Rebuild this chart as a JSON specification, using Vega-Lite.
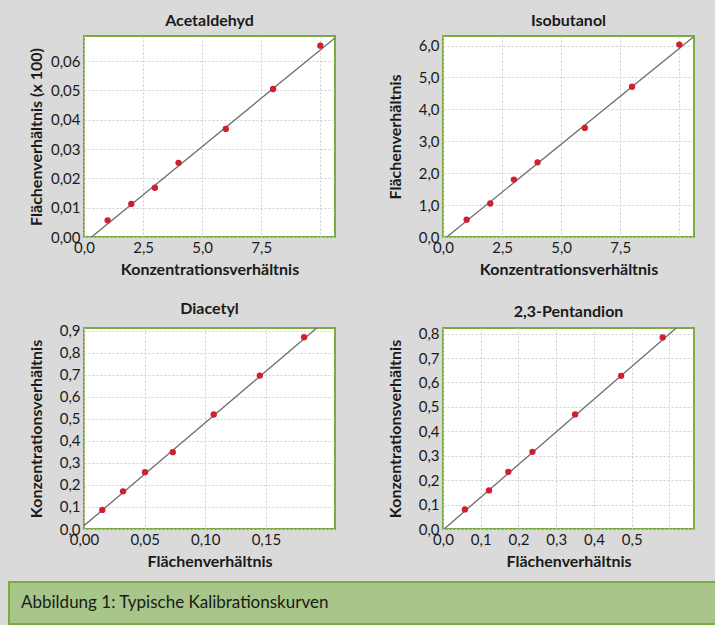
{
  "$schema": "https://vega.github.io/schema/vega-lite/v6.json",
  "background": "#dadada",
  "padding": {"left": 8, "top": 12, "right": 0, "bottom": 0},
  "datasets": {
    "pts1": [{"x": 1, "y": 0.0057}, {"x": 2, "y": 0.0113}, {"x": 3, "y": 0.0168}, {"x": 4, "y": 0.0253}, {"x": 6, "y": 0.0369}, {"x": 8, "y": 0.0505}, {"x": 10, "y": 0.0653}],
    "fit1": [{"x": 0.32, "y": 0}, {"x": 10.63, "y": 0.068}],
    "pts2": [{"x": 1, "y": 0.54}, {"x": 2, "y": 1.05}, {"x": 3, "y": 1.8}, {"x": 4, "y": 2.34}, {"x": 6, "y": 3.42}, {"x": 8, "y": 4.71}, {"x": 10, "y": 6.03}],
    "fit2": [{"x": 0.16, "y": 0}, {"x": 10.58, "y": 6.26}],
    "pts3": [{"x": 0.0151, "y": 0.0865}, {"x": 0.0322, "y": 0.171}, {"x": 0.0503, "y": 0.258}, {"x": 0.0732, "y": 0.349}, {"x": 0.107, "y": 0.52}, {"x": 0.145, "y": 0.697}, {"x": 0.1815, "y": 0.871}],
    "fit3": [{"x": 0, "y": 0.015}, {"x": 0.192, "y": 0.913}],
    "pts4": [{"x": 0.058, "y": 0.08}, {"x": 0.122, "y": 0.158}, {"x": 0.173, "y": 0.234}, {"x": 0.237, "y": 0.316}, {"x": 0.35, "y": 0.469}, {"x": 0.472, "y": 0.627}, {"x": 0.582, "y": 0.784}],
    "fit4": [{"x": 0.003, "y": 0}, {"x": 0.618, "y": 0.823}],
    "cap": [{"caption": "Abbildung 1: Typische Kalibrationskurven"}]
  },
  "config": {
    "font": "Lato",
    "view": {"stroke": "#7aab3f", "strokeWidth": 2, "fill": "white"},
    "axis": {"ticks": false, "domain": false, "gridColor": "#cfcfcf", "gridDash": [2, 2], "gridWidth": 1, "labelFont": "Lato", "labelFontSize": 15, "labelColor": "#1a1a1a", "labelPadding": 4, "labelFlush": false, "labelOverlap": false, "titleFont": "Lato", "titleFontSize": 16, "titleFontWeight": "bold", "titleColor": "#1a1a1a", "titlePadding": 6},
    "axisX": {"labelPadding": 3, "titlePadding": 6},
    "title": {"font": "Lato", "fontSize": 16, "fontWeight": "bold", "color": "#1a1a1a", "offset": 7},
    "concat": {"spacing": 20}
  },
  "spacing": 11,
  "vconcat": [
    {
      "spacing": 0,
      "hconcat": [
        {"width": 18, "height": 10, "view": {"stroke": null, "fill": null}, "data": {"values": []}, "mark": "point", "encoding": {}},
        {
          "columns": 2,
          "spacing": {"column": 50, "row": 21},
          "concat": [
            {
              "title": "Acetaldehyd", "width": 251, "height": 201,
              "encoding": {
                "x": {"field": "x", "type": "quantitative", "scale": {"domain": [0, 10.62], "nice": false, "zero": false}, "axis": {"title": "Konzentrationsverhältnis", "values": [0, 2.5, 5, 7.5, 10], "labelExpr": "datum.value > 9 ? '' : replace(format(datum.value, '.1f'), '.', ',')"}},
                "y": {"field": "y", "type": "quantitative", "scale": {"domain": [0, 0.0686], "nice": false, "zero": false}, "axis": {"title": "Flächenverhältnis (x 100)", "values": [0, 0.01, 0.02, 0.03, 0.04, 0.05, 0.06], "labelExpr": "replace(format(datum.value, '.2f'), '.', ',')"}}
              },
              "layer": [
                {"data": {"name": "fit1"}, "mark": {"type": "line", "color": "#6e6e6e", "strokeWidth": 1.3, "clip": true}},
                {"data": {"name": "pts1"}, "mark": {"type": "circle", "color": "#d0202a", "size": 40, "opacity": 1}}
              ]
            },
            {
              "title": "Isobutanol", "width": 251, "height": 201,
              "encoding": {
                "x": {"field": "x", "type": "quantitative", "scale": {"domain": [0, 10.62], "nice": false, "zero": false}, "axis": {"title": "Konzentrationsverhältnis", "values": [0, 2.5, 5, 7.5, 10], "labelExpr": "datum.value > 9 ? '' : replace(format(datum.value, '.1f'), '.', ',')"}},
                "y": {"field": "y", "type": "quantitative", "scale": {"domain": [0, 6.3], "nice": false, "zero": false}, "axis": {"title": "Flächenverhältnis", "titlePadding": 14.7, "values": [0, 1, 2, 3, 4, 5, 6], "labelExpr": "replace(format(datum.value, '.1f'), '.', ',')"}}
              },
              "layer": [
                {"data": {"name": "fit2"}, "mark": {"type": "line", "color": "#6e6e6e", "strokeWidth": 1.3, "clip": true}},
                {"data": {"name": "pts2"}, "mark": {"type": "circle", "color": "#d0202a", "size": 40, "opacity": 1}}
              ]
            },
            {
              "title": "Diacetyl", "width": 251, "height": 201,
              "encoding": {
                "x": {"field": "x", "type": "quantitative", "scale": {"domain": [0, 0.207], "nice": false, "zero": false}, "axis": {"title": "Flächenverhältnis", "values": [0, 0.05, 0.1, 0.15], "labelExpr": "replace(format(datum.value, '.2f'), '.', ',')"}},
                "y": {"field": "y", "type": "quantitative", "scale": {"domain": [0, 0.913], "nice": false, "zero": false}, "axis": {"title": "Konzentrationsverhältnis", "titlePadding": 14.7, "values": [0, 0.1, 0.2, 0.3, 0.4, 0.5, 0.6, 0.7, 0.8, 0.9], "labelExpr": "replace(format(datum.value, '.1f'), '.', ',')"}}
              },
              "layer": [
                {"data": {"name": "fit3"}, "mark": {"type": "line", "color": "#6e6e6e", "strokeWidth": 1.3, "clip": true}},
                {"data": {"name": "pts3"}, "mark": {"type": "circle", "color": "#d0202a", "size": 40, "opacity": 1}}
              ]
            },
            {
              "title": "2,3-Pentandion", "width": 251, "height": 201,
              "encoding": {
                "x": {"field": "x", "type": "quantitative", "scale": {"domain": [0, 0.665], "nice": false, "zero": false}, "axis": {"title": "Flächenverhältnis", "values": [0, 0.1, 0.2, 0.3, 0.4, 0.5, 0.6], "labelExpr": "datum.value > 0.55 ? '' : replace(format(datum.value, '.1f'), '.', ',')"}},
                "y": {"field": "y", "type": "quantitative", "scale": {"domain": [0, 0.823], "nice": false, "zero": false}, "axis": {"title": "Konzentrationsverhältnis", "titlePadding": 14.7, "values": [0, 0.1, 0.2, 0.3, 0.4, 0.5, 0.6, 0.7, 0.8], "labelExpr": "replace(format(datum.value, '.1f'), '.', ',')"}}
              },
              "layer": [
                {"data": {"name": "fit4"}, "mark": {"type": "line", "color": "#6e6e6e", "strokeWidth": 1.3, "clip": true}},
                {"data": {"name": "pts4"}, "mark": {"type": "circle", "color": "#d0202a", "size": 40, "opacity": 1}}
              ]
            }
          ]
        }
      ]
    },
    {
      "width": 708, "height": 42,
      "view": {"stroke": "#7aab3f", "strokeWidth": 2, "fill": "#a8c58a"},
      "data": {"name": "cap"},
      "mark": {"type": "text", "align": "left", "baseline": "middle", "dx": 12, "font": "Lato", "fontSize": 17, "color": "#1a1a1a"},
      "encoding": {
        "x": {"datum": 0, "type": "quantitative", "scale": {"domain": [0, 1]}, "axis": null},
        "y": {"datum": 0.5, "type": "quantitative", "scale": {"domain": [0, 1]}, "axis": null},
        "text": {"field": "caption"}
      }
    }
  ]
}
